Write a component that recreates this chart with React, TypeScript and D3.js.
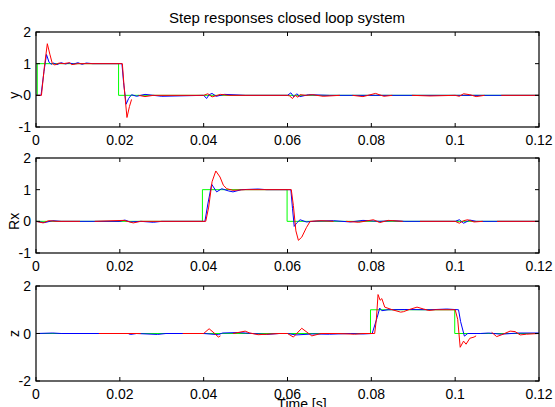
import React from 'react';
import * as d3 from 'd3';

type Pt = [number, number] | null;

const timeTicks = [0, 0.02, 0.04, 0.06, 0.08, 0.1, 0.12];
const panelLabels = ['y', 'Rx', 'z'];
const panelDomains: [number, number][] = [[-1, 2], [-1, 2], [-2, 2]];
const panelTicks = [[-1, 0, 1, 2], [-1, 0, 1, 2], [-2, 0, 2]];

// reference steps (green)
const yRef: Pt[] = [[0, 0], [0.0003, 0], [0.0003, 1], [0.0197, 1], [0.0197, 0], [0.12, 0]];
const rxRef: Pt[] = [[0, 0], [0.0397, 0], [0.0397, 1], [0.0599, 1], [0.0599, 0], [0.12, 0]];
const zRef: Pt[] = [[0, 0], [0.0798, 0], [0.0798, 1], [0.0999, 1], [0.0999, 0], [0.12, 0]];

// measured response (blue)
const yBlue: Pt[] = [
  [0, 0], [0.0012, 0], [0.0019, 0.75], [0.0025, 1.29], [0.0031, 1.05], [0.0036, 0.98], [0.0042, 1.02],
  [0.005, 0.97], [0.006, 1.03], [0.007, 0.99], [0.008, 1.02], [0.009, 0.99], [0.01, 1.03], [0.011, 0.98],
  [0.012, 1.02], [0.0135, 1], [0.0205, 1], [0.0209, 0.4], [0.0215, -0.28], [0.0221, -0.1], [0.0228, 0.02],
  [0.024, -0.03], [0.026, 0.03], [0.028, 0], [0.03, -0.03], [0.04, 0], [0.0407, -0.1], [0.0413, 0.02],
  [0.042, 0.06], [0.043, -0.03], [0.045, 0.03], [0.05, 0], [0.06, 0], [0.0608, 0.08], [0.0615, -0.05],
  [0.0622, 0.05], [0.063, -0.04], [0.065, 0.02], [0.07, 0], [0.12, 0],
];
const rxBlue: Pt[] = [
  [0, 0], [0.002, -0.04], [0.004, 0.02], [0.006, 0], [0.02, 0], [0.0212, 0.04], [0.0225, -0.02],
  [0.025, 0], [0.028, -0.03], [0.03, 0], [0.0403, 0], [0.041, 0.55], [0.0419, 1.17], [0.0431, 0.93],
  [0.0443, 1.03], [0.0459, 0.96], [0.047, 0.93], [0.049, 1], [0.053, 1.02], [0.055, 1], [0.0608, 1],
  [0.0612, 0.4], [0.0616, -0.16], [0.0622, -0.05], [0.063, 0.05], [0.0645, -0.02], [0.067, 0.01],
  [0.071, 0.02], [0.075, -0.02], [0.078, 0.03], [0.082, 0], [0.085, 0.02], [0.088, 0], [0.1, 0],
  [0.101, 0.05], [0.102, -0.06], [0.1035, 0.04], [0.105, 0], [0.12, 0],
];
const zBlue: Pt[] = [
  [0, 0], [0.004, 0.02], [0.006, 0], [0.022, 0], [0.0225, -0.04], [0.024, 0], [0.029, -0.04], [0.031, 0],
  [0.04, 0], [0.0435, -0.05], [0.0445, 0.02], [0.048, 0.04], [0.05, 0.02], [0.055, -0.04], [0.058, 0],
  [0.06, 0], [0.062, -0.06], [0.066, -0.02], [0.07, -0.03], [0.075, 0], [0.078, -0.02], [0.0802, 0],
  [0.0814, 0.68], [0.082, 1.07], [0.0825, 0.96], [0.084, 1], [0.088, 1.01], [0.094, 1], [0.098, 1.03],
  [0.1008, 1], [0.1013, 0.5], [0.1022, -0.11], [0.103, 0], [0.106, 0], [0.108, 0.02], [0.111, -0.03],
  [0.115, 0.02], [0.12, 0.02],
];

// second response (red), null = missing samples
const yRed: Pt[] = [
  [0, 0], [0.0013, 0], [0.002, 0.9], [0.0027, 1.63], [0.0033, 1.3], [0.0039, 1], [0.0045, 0.96],
  [0.0055, 1.02], [0.0065, 1], [0.008, 1.03], [0.0085, 0.97], [0.01, 1], [0.0206, 1], [0.021, 0.3],
  [0.0217, -0.7], [0.0223, -0.35], [0.0228, -0.13], null, [0.0245, 0], [0.026, -0.04], [0.028, 0],
  [0.04, 0], [0.041, 0.05], [0.042, -0.05], [0.044, 0.03], [0.046, 0], [0.06, 0], [0.0605, -0.02],
  [0.0612, -0.1], [0.0618, 0], [0.0625, -0.06], [0.063, 0.02], [0.0645, 0], [0.066, 0.02],
  [0.0685, -0.03], [0.0725, 0], null, [0.0755, 0], [0.078, -0.04], [0.081, 0.06], [0.083, -0.03],
  [0.085, 0], null, [0.0897, 0], [0.094, -0.02], [0.1, 0], [0.101, -0.03], [0.102, 0.05],
  [0.1035, 0.02], [0.105, -0.04], [0.107, 0], null, [0.111, 0], [0.12, 0],
];
const rxRed: Pt[] = [
  [0, 0], [0.0017, -0.05], [0.003, 0.02], [0.005, 0], [0.0105, 0], null, [0.014, 0], [0.021, 0.03],
  [0.0232, -0.05], [0.025, 0], [0.0405, 0], [0.0412, 0.45], [0.042, 1.25], [0.0429, 1.59], [0.0439, 1.4],
  [0.0447, 1.14], [0.0455, 1.03], [0.047, 0.98], [0.05, 1], [0.0609, 1], [0.0614, 0.5], [0.062, -0.3],
  [0.0626, -0.6], [0.0634, -0.5], [0.0645, -0.2], [0.0654, 0], [0.068, 0.02], [0.071, 0], null,
  [0.074, 0], [0.077, -0.03], [0.0805, 0.05], [0.082, -0.04], [0.084, 0.03], [0.0875, 0], null,
  [0.0916, 0], [0.1, 0], [0.101, -0.06], [0.102, 0.02], [0.103, 0.05], [0.1045, -0.02], [0.1066, 0],
  null, [0.11, 0], [0.12, 0],
];
const zRed: Pt[] = [
  [0.015, 0], [0.025, 0], null, [0.035, 0], [0.04, 0], [0.0413, 0.2], [0.0425, 0.02], [0.0435, -0.15],
  [0.044, -0.1], null, [0.047, 0], [0.0499, 0.1], [0.051, 0.02], [0.053, -0.05], [0.056, -0.02],
  [0.058, 0], [0.06, 0], [0.0614, -0.15], [0.0634, 0.22], [0.0658, -0.1], [0.068, 0], [0.072, 0],
  [0.076, -0.03], [0.078, 0], [0.0808, 0], [0.0812, 0.6], [0.0816, 1.64], [0.0821, 1.4], [0.0825, 1.47],
  [0.0832, 1.11], [0.085, 1], [0.087, 0.9], [0.0877, 0.92], [0.0889, 1], [0.0909, 1.11], [0.0925, 1.03],
  [0.0937, 0.97], [0.0953, 1], [0.1, 1], [0.1006, 0.6], [0.1012, -0.58], [0.102, -0.32], [0.1026, -0.45],
  [0.1035, -0.2], [0.1045, -0.15], [0.105, -0.1], null, [0.1087, 0.05], [0.1099, -0.13], [0.111, -0.06],
  [0.1131, 0.1], [0.1143, 0.08], [0.1155, -0.06], [0.117, -0.03], [0.12, 0],
];

const panelSeries = [
  [yRef, yBlue, yRed],
  [rxRef, rxBlue, rxRed],
  [zRef, zBlue, zRed],
];
const seriesColors = ['#00ff00', '#0000ff', '#ff0000'];

const W = 555;
const H = 407;
const left = 36;
const right = 539;
const panelTops = [32, 158, 286];
const panelH = 95;
const font = 'Liberation Sans, Arial, sans-serif';

const x = d3.scaleLinear().domain([0, 0.12]).range([left, right]);

function Panel({ idx }: { idx: number }) {
  const top = panelTops[idx];
  const bottom = top + panelH;
  const y = d3.scaleLinear().domain(panelDomains[idx]).range([bottom, top]);
  const line = d3
    .line<Pt>()
    .defined((d) => d !== null)
    .x((d) => x((d as [number, number])[0]))
    .y((d) => y((d as [number, number])[1]));
  const tl = 4;
  return (
    <g>
      {panelSeries[idx].map((s, i) => (
        <path key={i} d={line(s) || ''} fill="none" stroke={seriesColors[i]} strokeWidth={1} />
      ))}
      <rect x={left} y={top} width={right - left} height={panelH} fill="none" stroke="#000" strokeWidth={1.2} />
      {timeTicks.map((t) => (
        <g key={t}>
          <line x1={x(t)} x2={x(t)} y1={bottom} y2={bottom - tl} stroke="#000" />
          <line x1={x(t)} x2={x(t)} y1={top} y2={top + tl} stroke="#000" />
          <text x={x(t)} y={bottom + 18} textAnchor="middle" fontSize={14} fontFamily={font}>
            {String(t)}
          </text>
        </g>
      ))}
      {panelTicks[idx].map((v) => (
        <g key={v}>
          <line x1={left} x2={left + tl} y1={y(v)} y2={y(v)} stroke="#000" />
          <line x1={right} x2={right - tl} y1={y(v)} y2={y(v)} stroke="#000" />
          <text x={31} y={y(v) + 5} textAnchor="end" fontSize={14} fontFamily={font}>
            {String(v)}
          </text>
        </g>
      ))}
      <text
        transform={`translate(19, ${y(0)}) rotate(-90)`}
        textAnchor="middle"
        fontSize={14}
        fontFamily={font}
      >
        {panelLabels[idx]}
      </text>
    </g>
  );
}

export default function App() {
  return (
    <svg width={W} height={H} style={{ position: 'absolute', left: 0, top: 0, background: '#fff' }}>
      <rect width={W} height={H} fill="#fff" />
      <text x={287} y={23} textAnchor="middle" fontSize={15} fontFamily={font}>
        Step responses closed loop system
      </text>
      {[0, 1, 2].map((i) => (
        <Panel key={i} idx={i} />
      ))}
      <text x={302} y={408.5} textAnchor="middle" fontSize={14} fontFamily={font}>
        Time [s]
      </text>
    </svg>
  );
}
